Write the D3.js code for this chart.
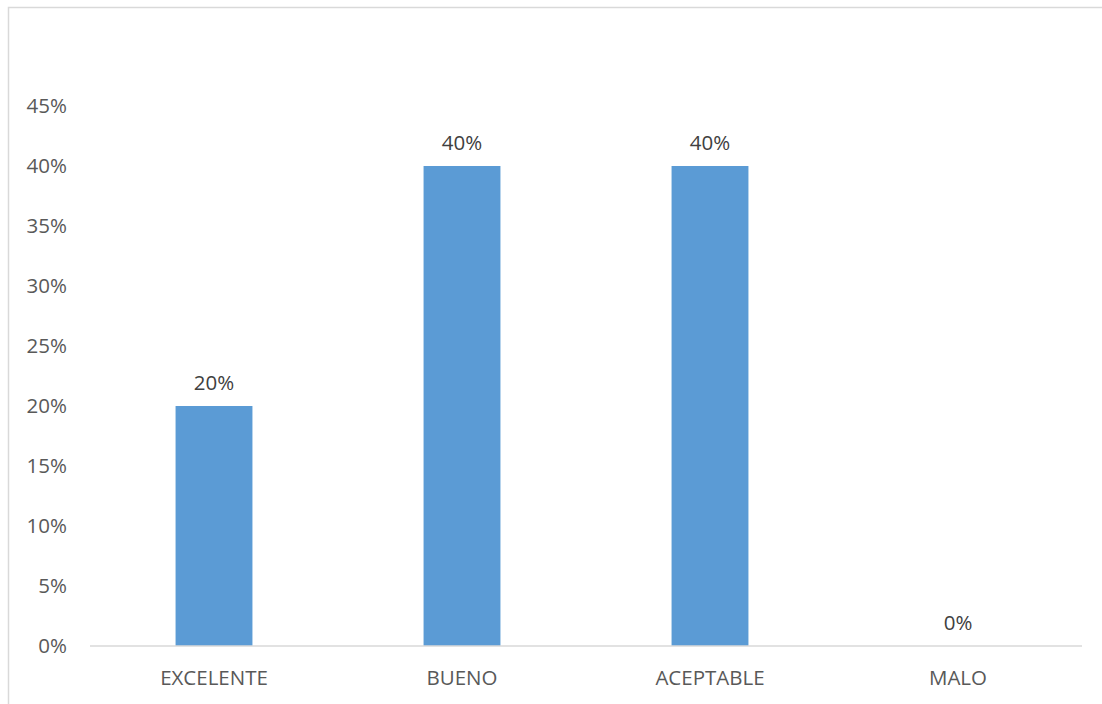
<!DOCTYPE html>
<html lang="es">
<head>
  <meta charset="UTF-8">
  <title>Evaluación</title>
  <script src="https://d3js.org/d3.v7.min.js"></script>
  <style>
    body { margin: 0; background: #fff; }
    text { font-family: "Open Sans", "Noto Sans", sans-serif; }
  </style>
</head>
<body>
<script>
// chart size
var width = 1102,
    height = 704;

// data
var categories = ["EXCELENTE", "BUENO", "ACEPTABLE", "MALO"];
var values = [0.20, 0.40, 0.40, 0.00];
var yTicks = [0, 0.05, 0.10, 0.15, 0.20, 0.25, 0.30, 0.35, 0.40, 0.45];

var plot = {left: 90, right: 1082, top: 106, bottom: 646};
var fontSize = 20.5;

var svg = d3.select("body").append("svg")
    .attr("width", width)
    .attr("height", height);

// chart area border
svg.append("rect")
    .attr("x", 8.5).attr("y", 7.5)
    .attr("width", width + 20).attr("height", height + 20)
    .attr("fill", "#fff")
    .attr("stroke", "#d9d9d9")
    .attr("stroke-width", 1.5);

var x = d3.scaleBand()
    .domain(categories)
    .range([plot.left, plot.right])
    .paddingInner(0.69)
    .paddingOuter(0.345);

var y = d3.scaleLinear()
    .domain([0, 0.45])
    .range([plot.bottom, plot.top]);

var fmt = d3.format(".0%");

// y tick labels
svg.selectAll(".ytick").data(yTicks).enter().append("text")
    .attr("class", "ytick")
    .attr("x", 67)
    .attr("y", function(d) { return y(d); })
    .attr("dy", "0.35em")
    .attr("text-anchor", "end")
    .attr("font-size", fontSize)
    .attr("fill", "#595959")
    .text(fmt);

// bars
svg.selectAll(".bar").data(values).enter().append("rect")
    .attr("class", "bar")
    .attr("x", function(d, i) { return x(categories[i]); })
    .attr("y", function(d) { return y(d); })
    .attr("width", x.bandwidth())
    .attr("height", function(d) { return y(0) - y(d); })
    .attr("fill", "#5b9bd5");

// x axis line
svg.append("line")
    .attr("x1", plot.left).attr("x2", plot.right)
    .attr("y1", y(0)).attr("y2", y(0))
    .attr("stroke", "#d9d9d9")
    .attr("stroke-width", 1.5);

// data labels
svg.selectAll(".lbl").data(values).enter().append("text")
    .attr("class", "lbl")
    .attr("x", function(d, i) { return x(categories[i]) + x.bandwidth() / 2; })
    .attr("y", function(d) { return y(d) - 16; })
    .attr("text-anchor", "middle")
    .attr("font-size", fontSize)
    .attr("fill", "#404040")
    .text(fmt);

// category labels
svg.selectAll(".cat").data(categories).enter().append("text")
    .attr("class", "cat")
    .attr("x", function(d) { return x(d) + x.bandwidth() / 2; })
    .attr("y", 685)
    .attr("text-anchor", "middle")
    .attr("font-size", fontSize)
    .attr("fill", "#595959")
    .text(function(d) { return d; });
</script>
</body>
</html>
